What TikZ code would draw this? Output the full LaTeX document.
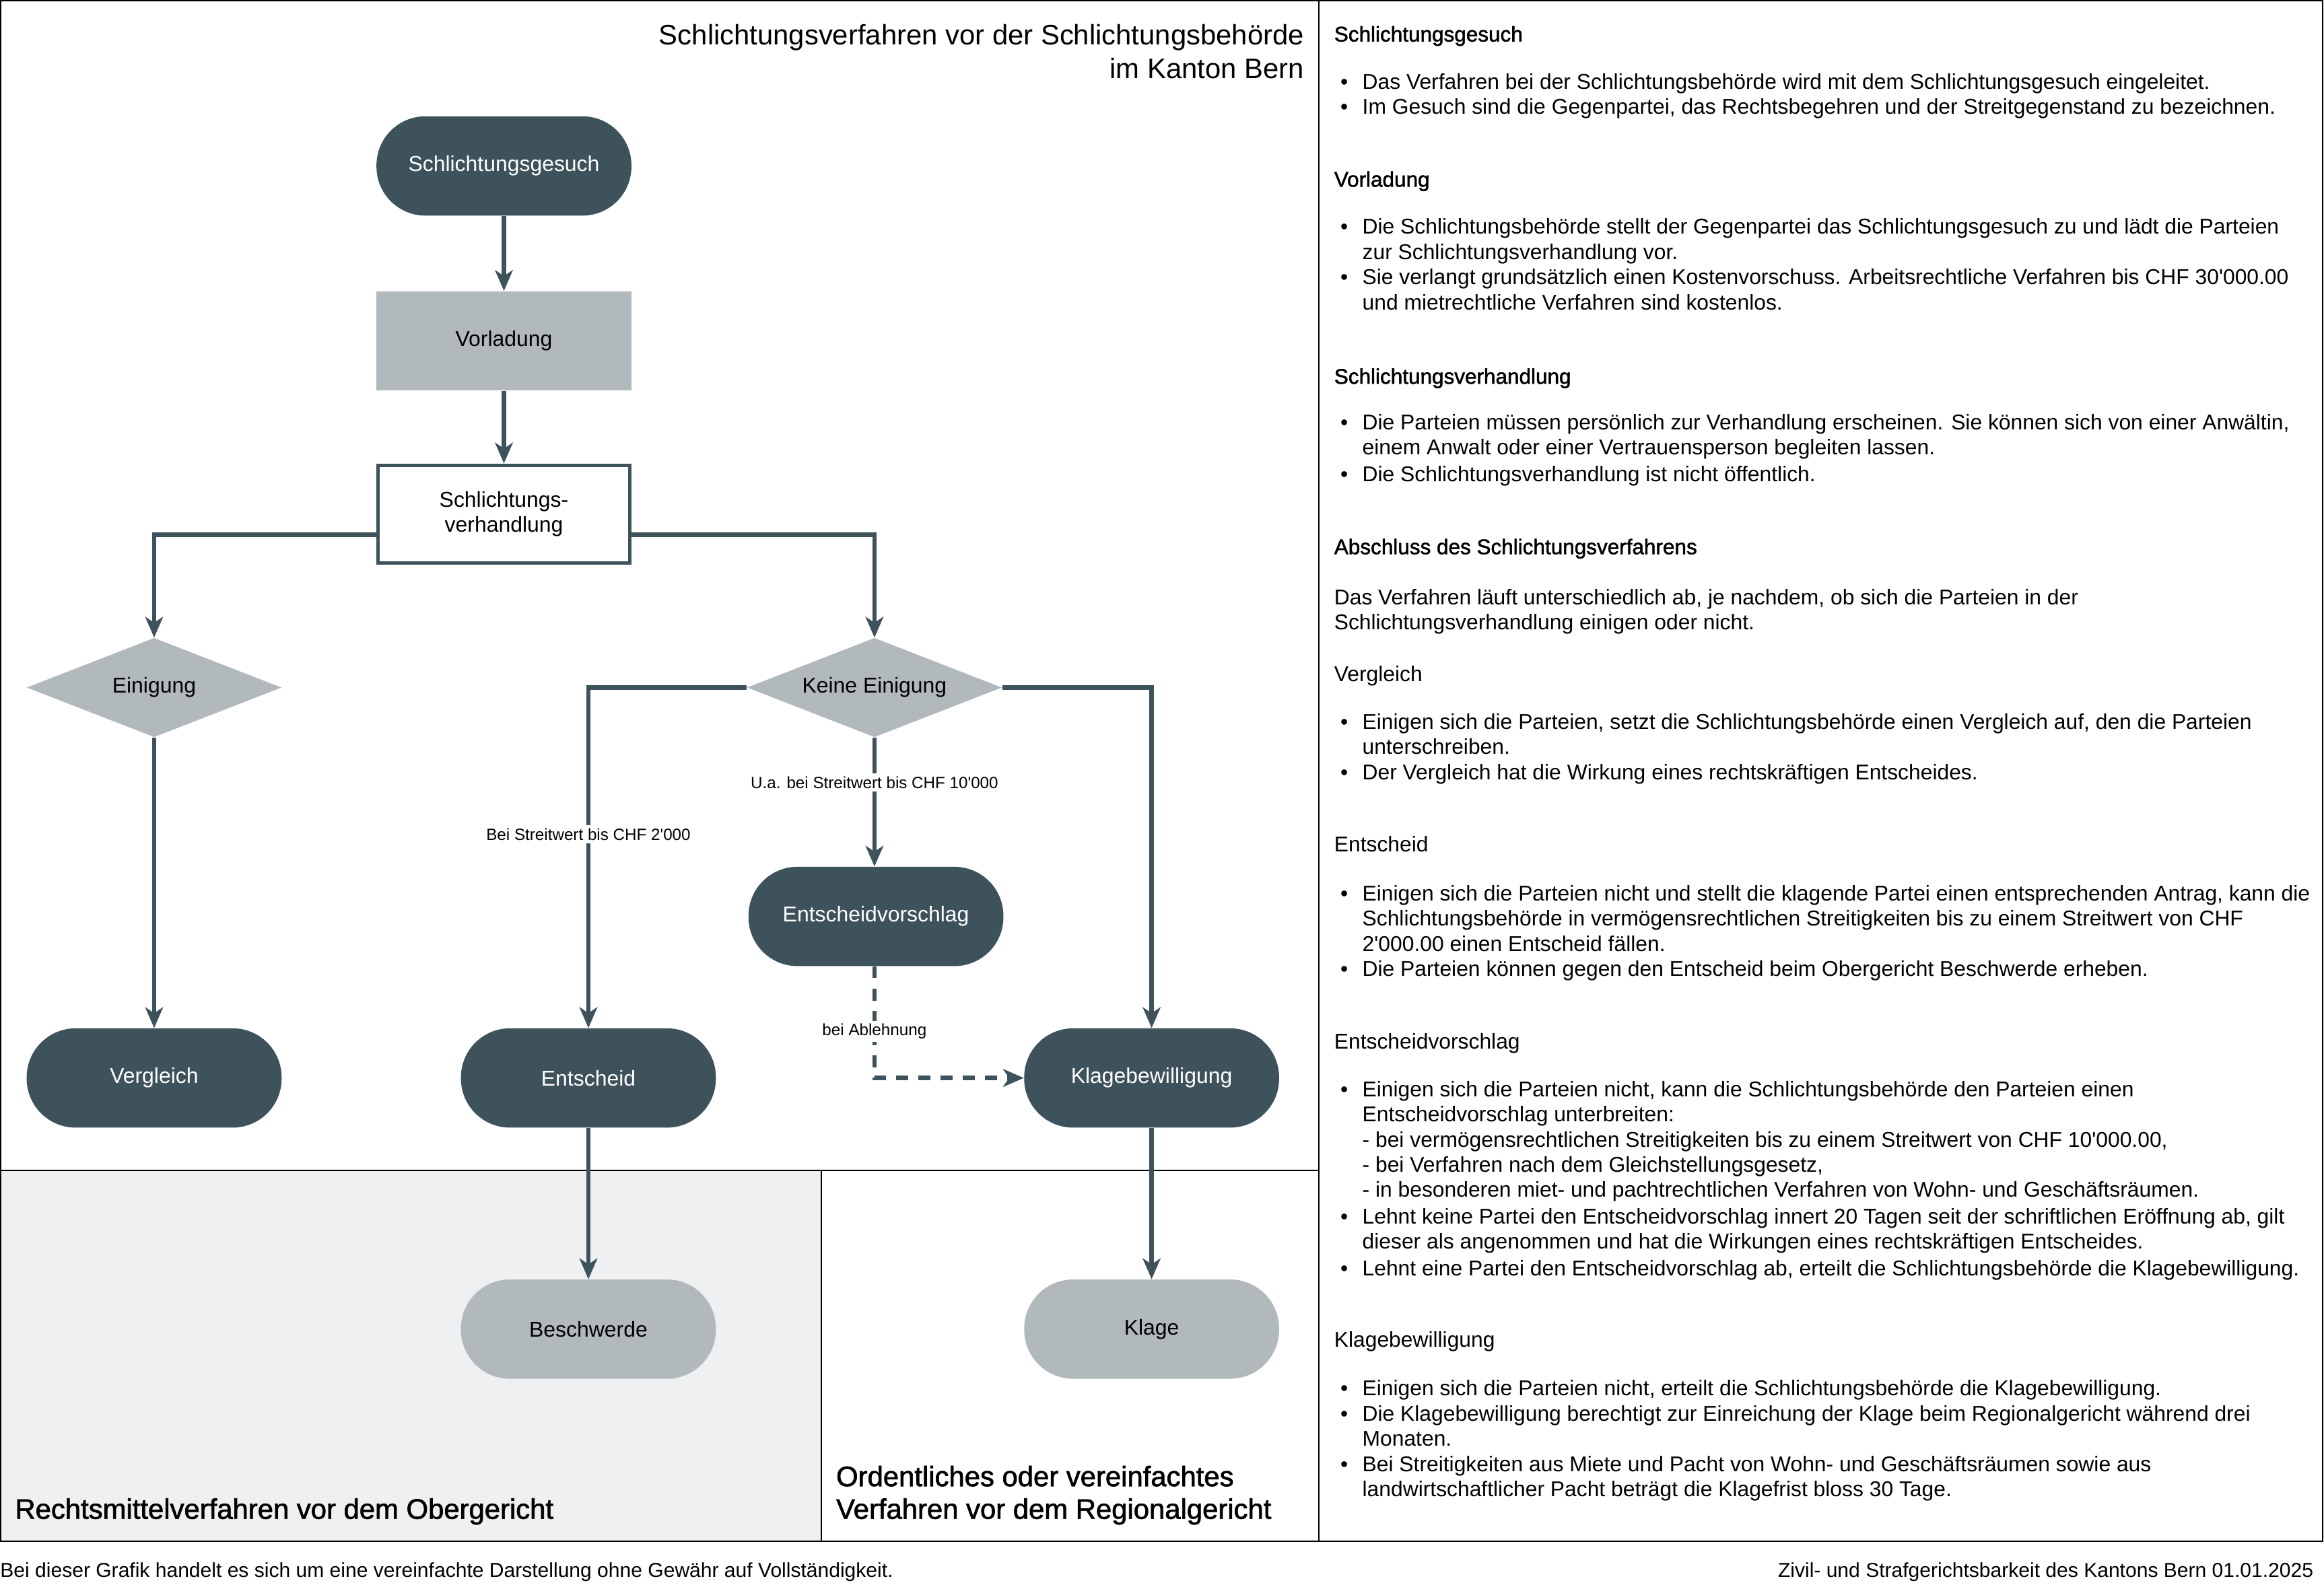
\documentclass[tikz,border=0pt]{standalone}
\usepackage{fontspec}
\setmainfont{Liberation Sans}[Ligatures=TeXOff]
\newfontfamily\medfont{Liberation Sans}[FakeBold=1.6,Ligatures=TeXOff]
\usetikzlibrary{arrows.meta,shapes.geometric}
\definecolor{dk}{HTML}{3E525C}
\definecolor{gr}{HTML}{B2B9BC}
\definecolor{lg}{HTML}{EFF0F1}
\tikzset{
  term/.style={rounded corners=33pt, minimum width=172pt, minimum height=67pt, fill=dk, text=white, font=\fontsize{14.5}{17}\selectfont, inner sep=0pt},
  termg/.style={term, fill=gr, text=black},
  graybox/.style={minimum width=172pt, minimum height=67pt, fill=gr, inner sep=0pt, font=\fontsize{14.5}{17}\selectfont},
  whitebox/.style={draw=dk, line width=2.5pt, fill=white, minimum width=170pt, minimum height=66pt, inner sep=0pt, align=center, font=\fontsize{14.5}{17}\selectfont},
  dia/.style={diamond, aspect=2.57, fill=gr, minimum width=172pt, minimum height=67pt, inner sep=0pt, font=\fontsize{14.5}{17}\selectfont},
  arr/.style={draw=dk, line width=3pt, -{Stealth[length=14pt,width=12pt,inset=4pt]}},
  lbl/.style={fill=white, inner sep=2pt, font=\fontsize{11}{13}\selectfont},
  frame/.style={draw=black, line width=0.9pt},
  bt/.style={inner sep=0pt, font=\fontsize{14.45}{17}\selectfont},
  hdt/.style={inner sep=0pt, font=\fontsize{14.3}{17}\selectfont\medfont},
}
\newcommand\hd[3]{\node[hdt,anchor=base west] (#1) at (900,#2+5) {#3};}
\newcommand\hr[3]{\node[bt,anchor=base west] (#1) at (900,#2+5) {#3};}
\newcommand\bul[3]{\node[bt,anchor=base] (#1b) at (907,#2+5) {\textbullet};\node[bt,anchor=base west] (#1) at (919,#2+5) {#3};}
\newcommand\cont[3]{\node[bt,anchor=base west] (#1) at (919,#2+5) {#3};}
\begin{document}
\begin{tikzpicture}[x=1pt,y=-1pt]
\useasboundingbox (0,0) rectangle (1568,1069.3);
% panels
\fill[lg] (0.5,790) rectangle (554,1040);
\draw[frame] (0.5,0.5) rectangle (1567,1040);
\draw[frame] (890,0.5) -- (890,1040);
\draw[frame] (0.5,790) -- (890,790);
\draw[frame] (554,790) -- (554,1040);
% title
\node[inner sep=0pt, anchor=base east, font=\fontsize{19}{23}\selectfont] (title1) at (880,30) {Schlichtungsverfahren vor der Schlichtungsbehörde};
\node[inner sep=0pt, anchor=base east, font=\fontsize{19}{23}\selectfont] (title2) at (880,53) {im Kanton Bern};
% nodes
\node[term] (gesuch) at (340,112) {Schlichtungsgesuch};
\node[graybox] (vorl) at (340,230) {Vorladung};
\node[whitebox] (sv) at (340,347) {Schlichtungs-\\verhandlung};
\node[dia] (ein) at (104,464) {Einigung};
\node[dia] (ke) at (590,464) {Keine Einigung};
\node[term] (evs) at (591,618.5) {Entscheidvorschlag};
\node[term] (verg) at (104,727.5) {Vergleich};
\node[term] (ent) at (397,727.5) {Entscheid};
\node[term] (kb) at (777,727.5) {Klagebewilligung};
\node[termg] (besch) at (397,897) {Beschwerde};
\node[termg] (klage) at (777,897) {Klage};
% connectors
\draw[arr] (gesuch) -- (vorl);
\draw[arr] (vorl) -- (sv);
\draw[arr] ([yshift=-14pt]sv.west) -| (ein.north);
\draw[arr] ([yshift=-14pt]sv.east) -| (ke.north);
\draw[arr] (ein) -- (verg);
\draw[arr] (ke.west) -| (ent.north);
\draw[arr] (ke.south) -- (ke.south |- evs.north);
\draw[arr] (ke.east) -| (kb.north);
\draw[arr, dash pattern=on 8pt off 7pt] (ke.south |- evs.south) |- (kb.west);
\draw[arr] (ent) -- (besch);
\draw[arr] (kb) -- (klage);
% edge labels
\node[lbl] (l1) at (397,563) {Bei Streitwert bis CHF 2'000};
\node[lbl] (l2) at (590,528) {U.a. bei Streitwert bis CHF 10'000};
\node[lbl] (l3) at (590,696) {bei Ablehnung};
% bottom labels
\node[inner sep=0pt, anchor=base west, font=\fontsize{19}{23}\selectfont\medfont] (bl1) at (10,1025) {Rechtsmittelverfahren vor dem Obergericht};
\node[inner sep=0pt, anchor=base west, font=\fontsize{19}{23}\selectfont\medfont] (bl2) at (564,1003) {Ordentliches oder vereinfachtes};
\node[inner sep=0pt, anchor=base west, font=\fontsize{19}{23}\selectfont\medfont] (bl3) at (564,1025) {Verfahren vor dem Regionalgericht};
% footer
\node[inner sep=0pt, anchor=base west, font=\fontsize{13.65}{15}\selectfont] (f1) at (0,1064.5) {Bei dieser Grafik handelt es sich um eine vereinfachte Darstellung ohne Gewähr auf Vollständigkeit.};
\node[inner sep=0pt, anchor=base east, font=\fontsize{13.65}{15}\selectfont] (f2) at (1561,1064.5) {Zivil- und Strafgerichtsbarkeit des Kantons Bern 01.01.2025};
% right panel
\hd{h1}{23}{Schlichtungsgesuch}
\bul{a1}{55}{Das Verfahren bei der Schlichtungsbehörde wird mit dem Schlichtungsgesuch eingeleitet.}
\bul{a2}{72}{Im Gesuch sind die Gegenpartei, das Rechtsbegehren und der Streitgegenstand zu bezeichnen.}
\hd{h2}{121}{Vorladung}
\bul{b1}{153}{Die Schlichtungsbehörde stellt der Gegenpartei das Schlichtungsgesuch zu und lädt die Parteien}
\cont{b1c}{170}{zur Schlichtungsverhandlung vor.}
\bul{b2}{187}{Sie verlangt grundsätzlich einen Kostenvorschuss. Arbeitsrechtliche Verfahren bis CHF 30'000.00}
\cont{b2c}{204}{und mietrechtliche Verfahren sind kostenlos.}
\hd{h3}{254}{Schlichtungsverhandlung}
\bul{c1}{285}{Die Parteien müssen persönlich zur Verhandlung erscheinen. Sie können sich von einer Anwältin,}
\cont{c1c}{302}{einem Anwalt oder einer Vertrauensperson begleiten lassen.}
\bul{c2}{320}{Die Schlichtungsverhandlung ist nicht öffentlich.}
\hd{h4}{369}{Abschluss des Schlichtungsverfahrens}
\hr{p1}{403}{Das Verfahren läuft unterschiedlich ab, je nachdem, ob sich die Parteien in der}
\hr{p2}{420}{Schlichtungsverhandlung einigen oder nicht.}
\hr{h5}{455}{Vergleich}
\bul{d1}{487}{Einigen sich die Parteien, setzt die Schlichtungsbehörde einen Vergleich auf, den die Parteien}
\cont{d1c}{504}{unterschreiben.}
\bul{d2}{521}{Der Vergleich hat die Wirkung eines rechtskräftigen Entscheides.}
\hr{h6}{570}{Entscheid}
\bul{e1}{603}{Einigen sich die Parteien nicht und stellt die klagende Partei einen entsprechenden Antrag, kann die}
\cont{e1c}{620}{Schlichtungsbehörde in vermögensrechtlichen Streitigkeiten bis zu einem Streitwert von CHF}
\cont{e1d}{637}{2'000.00 einen Entscheid fällen.}
\bul{e2}{654}{Die Parteien können gegen den Entscheid beim Obergericht Beschwerde erheben.}
\hr{h7}{703}{Entscheidvorschlag}
\bul{g1}{735}{Einigen sich die Parteien nicht, kann die Schlichtungsbehörde den Parteien einen}
\cont{g1c}{752}{Entscheidvorschlag unterbreiten:}
\cont{g1d}{769}{- bei vermögensrechtlichen Streitigkeiten bis zu einem Streitwert von CHF 10'000.00,}
\cont{g1e}{786}{- bei Verfahren nach dem Gleichstellungsgesetz,}
\cont{g1f}{803}{- in besonderen miet- und pachtrechtlichen Verfahren von Wohn- und Geschäftsräumen.}
\bul{g2}{821}{Lehnt keine Partei den Entscheidvorschlag innert 20 Tagen seit der schriftlichen Eröffnung ab, gilt}
\cont{g2c}{838}{dieser als angenommen und hat die Wirkungen eines rechtskräftigen Entscheides.}
\bul{g3}{856}{Lehnt eine Partei den Entscheidvorschlag ab, erteilt die Schlichtungsbehörde die Klagebewilligung.}
\hr{h8}{904}{Klagebewilligung}
\bul{k1}{937}{Einigen sich die Parteien nicht, erteilt die Schlichtungsbehörde die Klagebewilligung.}
\bul{k2}{954}{Die Klagebewilligung berechtigt zur Einreichung der Klage beim Regionalgericht während drei}
\cont{k2c}{971}{Monaten.}
\bul{k3}{988}{Bei Streitigkeiten aus Miete und Pacht von Wohn- und Geschäftsräumen sowie aus}
\cont{k3c}{1005}{landwirtschaftlicher Pacht beträgt die Klagefrist bloss 30 Tage.}
\end{tikzpicture}
\end{document}
